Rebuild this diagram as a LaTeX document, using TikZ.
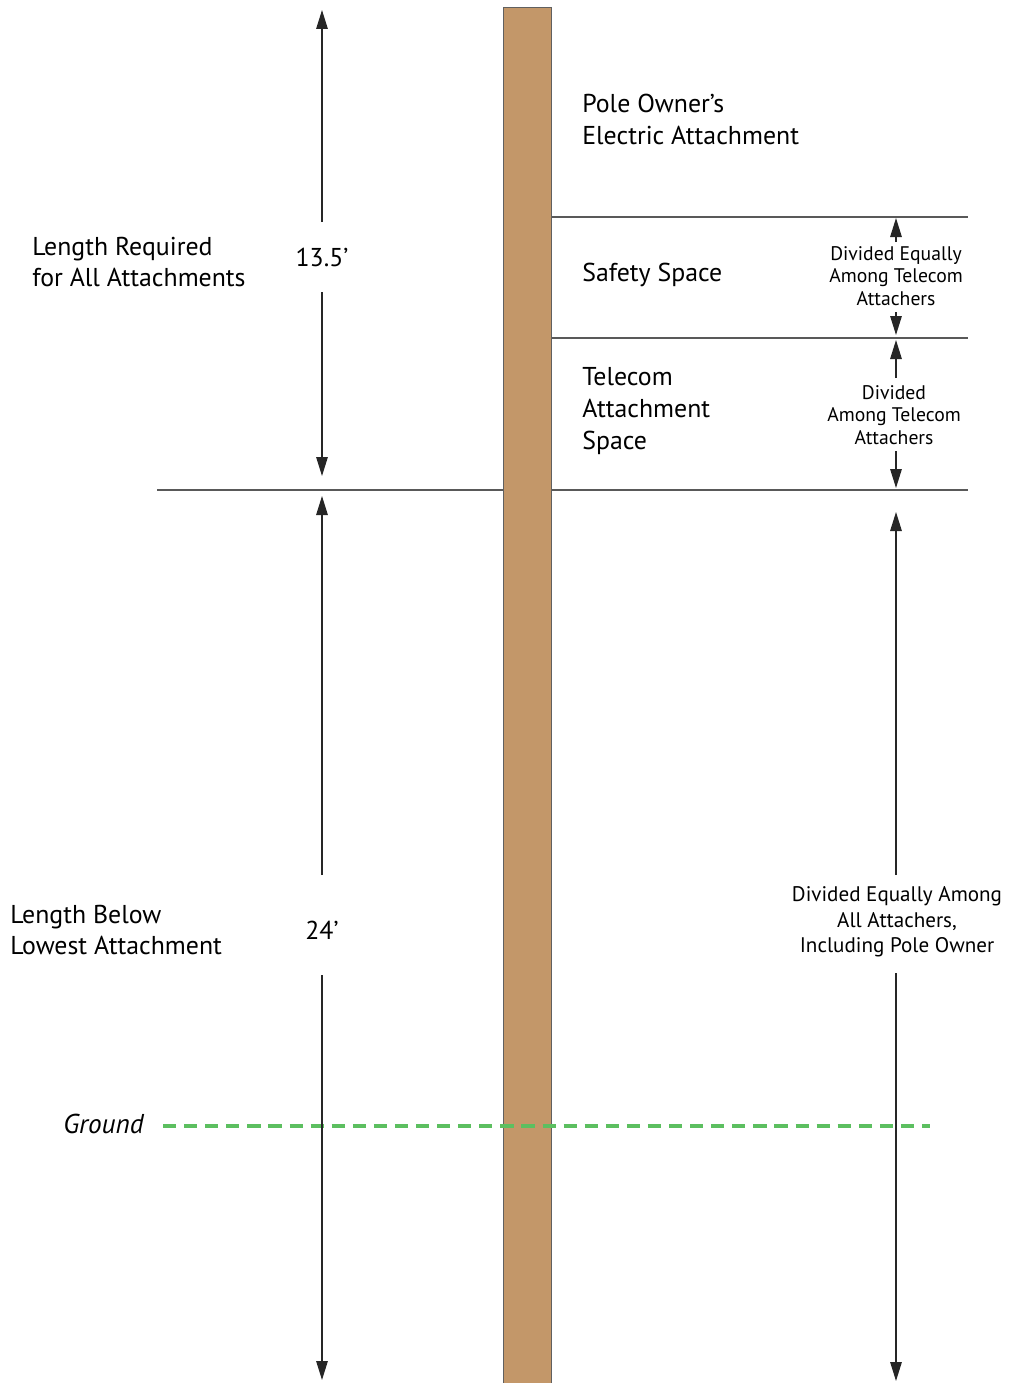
\documentclass[tikz,border=0pt]{standalone}
\usepackage{fontspec}
\setmainfont{PT Sans}
\usetikzlibrary{arrows.meta}
\definecolor{polefill}{HTML}{C39769}
\definecolor{poleedge}{HTML}{606060}
\definecolor{groundgreen}{HTML}{5CBF60}
\tikzset{
  dimarrow/.style={draw=black!85, line width=0.8pt, -{Triangle[length=3.8mm,width=2.3mm]}},
  divline/.style={draw=black!65, line width=0.7pt},
  bigtext/.style={font=\fontsize{14.7}{18.2}\selectfont, align=left, inner sep=0pt},
  smalltext/.style={font=\fontsize{11.2}{12.8}\selectfont, align=center, inner sep=0pt},
  midtext/.style={font=\fontsize{12}{14.5}\selectfont, align=center, inner sep=0pt},
}
\begin{document}
\begin{tikzpicture}[x=0.02cm, y=-0.02cm]
\useasboundingbox (0,0) rectangle (1009,1383);
% horizontal division lines
\draw[divline] (157,490) -- (968,490);
\draw[divline] (551,217) -- (968,217);
\draw[divline] (551,338) -- (968,338);
% pole
\node[draw=poleedge, fill=polefill, line width=0.8pt, minimum width=48*0.02cm, minimum height=1380*0.02cm, inner sep=0pt, anchor=north west] (pole) at (503,7) {};
% ground
\draw[groundgreen, line width=2.2pt, dash pattern=on 7.5pt off 4.5pt] (163,1126) -- (930,1126);
\node[bigtext, font=\fontsize{15.5}{18.2}\selectfont\itshape, anchor=east] (ground) at (144,1124) {Ground};
% texts
\node[bigtext, anchor=west] (owner) at (582,119) {Pole Owner’s\\Electric Attachment};
\node[bigtext, anchor=west] (safety) at (582,275) {Safety Space};
\node[bigtext, anchor=west] (telecom) at (582,411) {Telecom\\Attachment\\Space};
\node[bigtext, anchor=west] (lenreq) at (32,262) {Length Required\\for All Attachments};
\node[bigtext, anchor=west] (lenbelow) at (10,930) {Length Below\\Lowest Attachment};
% left dimensions
\node[bigtext, anchor=center] (d135) at (322,257) {13.5’};
\node[bigtext, anchor=center] (d24) at (322,930) {24’};
\coordinate (l1a) at (322,222);
\coordinate (l1top) at (322,10);
\coordinate (l1b) at (322,292);
\coordinate (l1bot) at (322,476);
\coordinate (l2a) at (322,875);
\coordinate (l2top) at (322,496);
\coordinate (l2b) at (322,975);
\coordinate (l2bot) at (322,1380);
\draw[dimarrow] (l1a) -- (l1top);
\draw[dimarrow] (l1b) -- (l1bot);
\draw[dimarrow] (l2a) -- (l2top);
\draw[dimarrow] (l2b) -- (l2bot);
% right dimensions
\node[smalltext] (r1) at (896,276) {Divided Equally\\Among Telecom\\Attachers};
\node[smalltext] (r2) at (894,415) {Divided\\Among Telecom\\Attachers};
\node[midtext] (r3) at (897,922) {Divided Equally Among\\All Attachers,\\Including Pole Owner};
\coordinate (r1a) at (896,242);
\coordinate (r1top) at (896,218);
\coordinate (r1b) at (896,312);
\coordinate (r1bot) at (896,335);
\coordinate (r2a) at (896,378);
\coordinate (r2top) at (896,340);
\coordinate (r2b) at (896,451);
\coordinate (r2bot) at (896,488);
\coordinate (r3a) at (896,875);
\coordinate (r3top) at (896,512);
\coordinate (r3b) at (896,973);
\coordinate (r3bot) at (896,1381);
\draw[dimarrow] (r1a) -- (r1top);
\draw[dimarrow] (r1b) -- (r1bot);
\draw[dimarrow] (r2a) -- (r2top);
\draw[dimarrow] (r2b) -- (r2bot);
\draw[dimarrow] (r3a) -- (r3top);
\draw[dimarrow] (r3b) -- (r3bot);
\end{tikzpicture}
\end{document}
